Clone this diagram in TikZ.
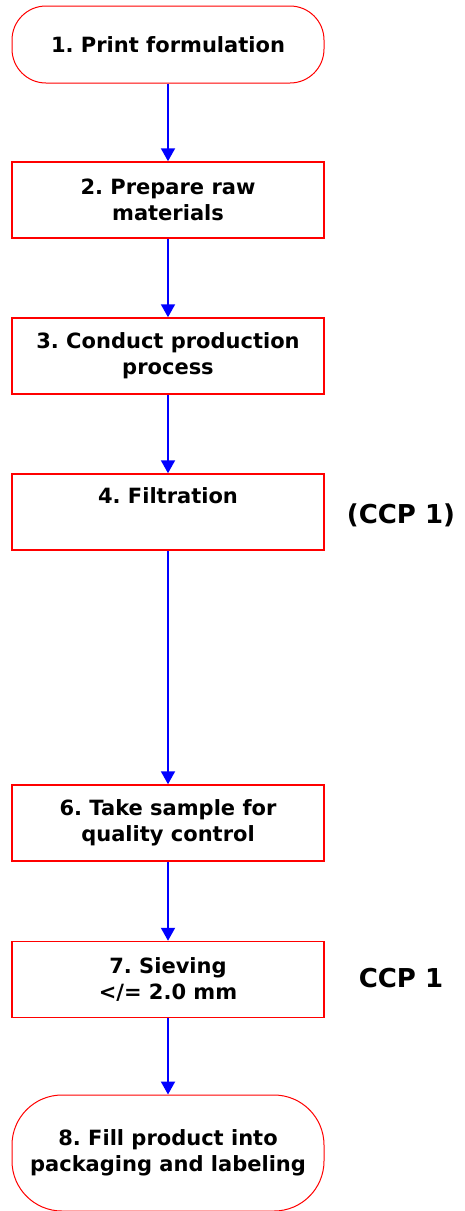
\documentclass[tikz,border=0pt]{standalone}
\usepackage{fontspec}
\setmainfont{DejaVu Sans}
\usetikzlibrary{arrows.meta}
\frenchspacing

\begin{document}
\begin{tikzpicture}[x=1pt, y=1pt,
  stepbox/.style={draw=red, line width=1.5pt, minimum width=312pt, minimum height=76pt,
    inner sep=0pt, align=center, font=\bfseries\fontsize{21}{26}\selectfont},
  endbox/.style={stepbox, line width=1pt, rounded corners=34pt},
  flow/.style={draw=blue, line width=2pt, -{Triangle[width=14pt,length=13pt]}},
  ccp/.style={font=\bfseries\fontsize{26}{30}\selectfont}]

\useasboundingbox (0,0) rectangle (464,-1211);

% process steps
\node[endbox, minimum height=77pt] (print) at (168,-44.5) {1. Print formulation};
\node[stepbox] (raw) at (168,-200) {2. Prepare raw\\materials};
\node[stepbox] (process) at (168,-356) {3. Conduct production\\process};
\node[stepbox] (filter) at (168,-512) {4. Filtration\\\strut};
\node[stepbox] (sample) at (168,-823) {6. Take sample for\\quality control};
\node[stepbox] (sieve) at (168,-979.5) {7. Sieving\\</= 2.0 mm};
\node[endbox, minimum height=116pt, rounded corners=50pt] (fill) at (168,-1153) {8. Fill product into\\packaging and labeling};

% critical control points
\node[ccp] (ccpfilter) at (401,-515) {(CCP 1)};
\node[ccp] (ccpsieve) at (401,-978) {CCP 1};

% arrows
\draw[flow] (print) -- (raw);
\draw[flow] (raw) -- (process);
\draw[flow] (process) -- (filter);
\draw[flow] (filter) -- (sample);
\draw[flow] (sample) -- (sieve);
\draw[flow] (sieve) -- (fill);

\end{tikzpicture}
\end{document}
